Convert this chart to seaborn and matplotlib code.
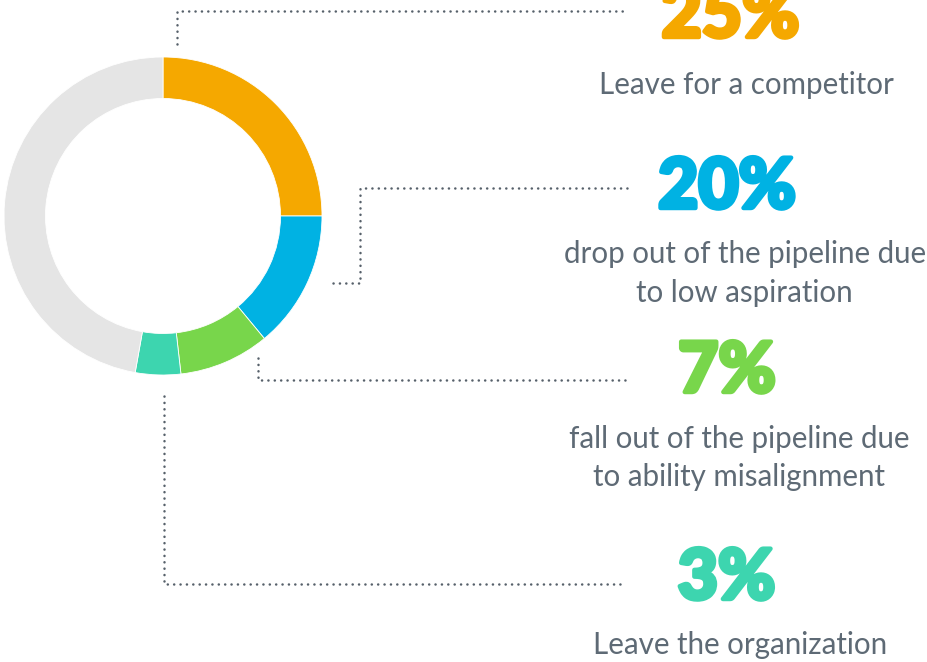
import matplotlib
matplotlib.use("Agg")
import matplotlib.pyplot as plt
import matplotlib.patheffects as pe
import seaborn as sns

# ---------------- data ----------------
categories = ["Leave for a competitor",
              "drop out of the pipeline due to low aspiration",
              "fall out of the pipeline due to ability misalignment",
              "Leave the organization",
              "Remaining"]
arc_shares = [25, 14, 9.2, 4.6, 47.2]          # arc sizes as drawn in the ring
label_values = [25, 20, 7, 3]                   # headline percentages
label_lines = [["Leave for a competitor"],
               ["drop out of the pipeline due", "to low aspiration"],
               ["fall out of the pipeline due", "to ability misalignment"],
               ["Leave the organization"]]
colors = ["#F5A800", "#00B2E3", "#78D64B", "#3DD5AF", "#E5E5E5"]

# ---------------- style ----------------
sns.set_theme(style="white")
plt.rcParams["font.family"] = ["Lato", "DejaVu Sans"]
W, H = 927, 662
TEXT = "#5E6A75"
DOT = "#56606A"

fig = plt.figure(figsize=(W / 100, H / 100), dpi=100)
ax = fig.add_axes([0, 0, 1, 1])


def Y(y):  # image row -> data y
    return H - y


ax.pie(arc_shares, colors=colors, startangle=90, counterclock=False,
       radius=159, center=(163, Y(216)),
       wedgeprops=dict(width=41.5, edgecolor="white", linewidth=0.6))
ax.set_xlim(0, W)
ax.set_ylim(0, H)
ax.set_aspect("auto")
ax.axis("off")

# dotted connectors (layout)
paths = [
    [(177, 44), (177, 11), (625, 11)],
    [(333, 283), (360, 283), (360, 188), (630, 188)],
    [(258, 358), (258, 380), (625, 380)],
    [(164, 396), (164, 584), (625, 584)],
]
for p in paths:
    xs = [q[0] for q in p]
    ys = [Y(q[1]) for q in p]
    ax.plot(xs, ys, color=DOT, lw=1.8, linestyle=(0, (0.05, 2.5)),
            dash_capstyle="round", solid_capstyle="round")

renderer = fig.canvas.get_renderer()


def fit_size(txt, target_w, **kw):
    t = ax.text(0, 0, txt, fontsize=20, **kw)
    w = t.get_window_extent(renderer).width
    t.remove()
    return 20 * target_w / w


num_kw = dict(fontweight="black")
num_size = fit_size("20%", 138, **num_kw)
body_size = fit_size("drop out of the pipeline due", 364)

num_pos = [(730.5, 37), (727, 208), (727, 392), (726.5, 599)]
body_pos = [[(746.5, 94)],
            [(745, 263), (744.5, 302)],
            [(739.5, 448), (739, 486)],
            [(740, 654)]]

for i, v in enumerate(label_values):
    x, y = num_pos[i]
    ax.text(x, Y(y), f"{v}%", ha="center", va="baseline",
            fontsize=num_size, color=colors[i],
            path_effects=[pe.withStroke(linewidth=3.2, foreground=colors[i])],
            **num_kw)
    for line, (lx, ly) in zip(label_lines[i], body_pos[i]):
        ax.text(lx, Y(ly), line, ha="center", va="baseline",
                fontsize=body_size, color=TEXT)

fig.savefig("out.png", dpi=100, facecolor="white")
